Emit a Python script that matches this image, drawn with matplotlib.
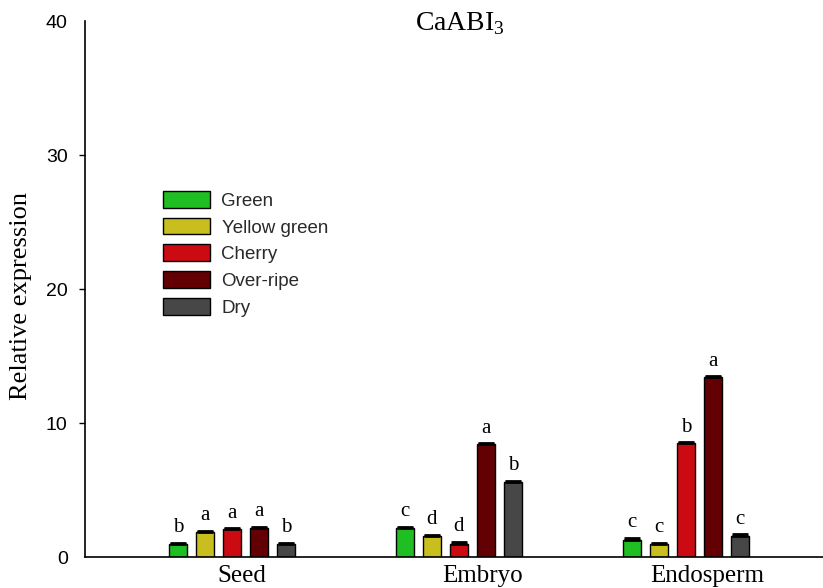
import numpy as np
import matplotlib.pyplot as plt

groups = ['Seed', 'Embryo', 'Endosperm']
stages = ['Green', 'Yellow green', 'Cherry', 'Over-ripe', 'Dry']
green = [1.0, 2.2, 1.3]
yellow_green = [1.9, 1.6, 1.0]
cherry = [2.1, 1.0, 8.5]
over_ripe = [2.2, 8.4, 13.4]
dry = [1.0, 5.6, 1.6]
err_green = [0.05, 0.05, 0.15]
err_yellow = [0.05, 0.05, 0.05]
err_cherry = [0.05, 0.15, 0.05]
err_over = [0.05, 0.1, 0.1]
err_dry = [0.05, 0.1, 0.1]
letters = [['b', 'c', 'c'], ['a', 'd', 'c'], ['a', 'd', 'b'], ['a', 'a', 'a'], ['b', 'b', 'c']]
colors = ['#1fbf23', '#c8bf1e', '#cc0a12', '#620004', '#474747']

values = [green, yellow_green, cherry, over_ripe, dry]
errors = [err_green, err_yellow, err_cherry, err_over, err_dry]

serif = 'Liberation Serif'
sans = 'Liberation Sans'

fig = plt.figure(figsize=(8.23, 5.88), dpi=100)
ax = fig.add_axes([85/823, 1-557/588, 738/823, 536/588])

x = np.arange(len(groups))
w = 0.077
step = 0.119
for i in range(5):
    pos = x + (i - 2) * step
    ax.bar(pos, values[i], w, color=colors[i], edgecolor='black', linewidth=1.0,
           label=stages[i], zorder=2)
    ax.errorbar(pos, values[i], yerr=[np.zeros(3), errors[i]], fmt='none',
                ecolor='black', elinewidth=1.0, capsize=6, capthick=2, zorder=3)
    for j in range(3):
        ax.annotate(letters[i][j], (pos[j], values[i][j] + errors[i][j]),
                    xytext=(0, 4), textcoords='offset points', ha='center',
                    va='bottom', fontsize=15, family=serif)

ax.set_xlim(-0.648, 2.604)
ax.set_ylim(0, 40)
ax.set_yticks([0, 10, 20, 30, 40])
ax.tick_params(axis='y', direction='out', length=4.5, width=1, pad=8, labelsize=14)
for lab in ax.get_yticklabels():
    lab.set_family(sans)
yt = ax.yaxis.get_major_ticks()
yt[0].tick1line.set_visible(False)
yt[-1].tick1line.set_visible(False)

ax.set_xticks(x + np.array([0.045, 0.105, 0.095]))
ax.set_xticklabels(groups, family=serif, fontsize=18)
ax.tick_params(axis='x', length=0, pad=6)

ax.spines['top'].set_visible(False)
ax.spines['right'].set_visible(False)
ax.spines['left'].set_linewidth(1.2)
ax.spines['bottom'].set_linewidth(1.2)

ax.set_ylabel('Relative expression', family=serif, fontsize=19)
ax.yaxis.set_label_coords(-0.072, 0.487)

fig.text(460/823, 1-24/588, r'CaABI$_{\mathregular{3}}$', family=serif, fontsize=20,
         ha='center', va='center')

leg = ax.legend(loc='upper left', bbox_to_anchor=(163/823, 1-191/588),
                bbox_transform=fig.transFigure, frameon=False,
                prop={'family': sans, 'size': 13.5}, handlelength=2.5, handleheight=1.0,
                labelspacing=0.42, handletextpad=0.62, borderpad=0, borderaxespad=0)
for t in leg.get_texts():
    t.set_color('#2a2a2a')

fig.savefig('out.png', dpi=100)
